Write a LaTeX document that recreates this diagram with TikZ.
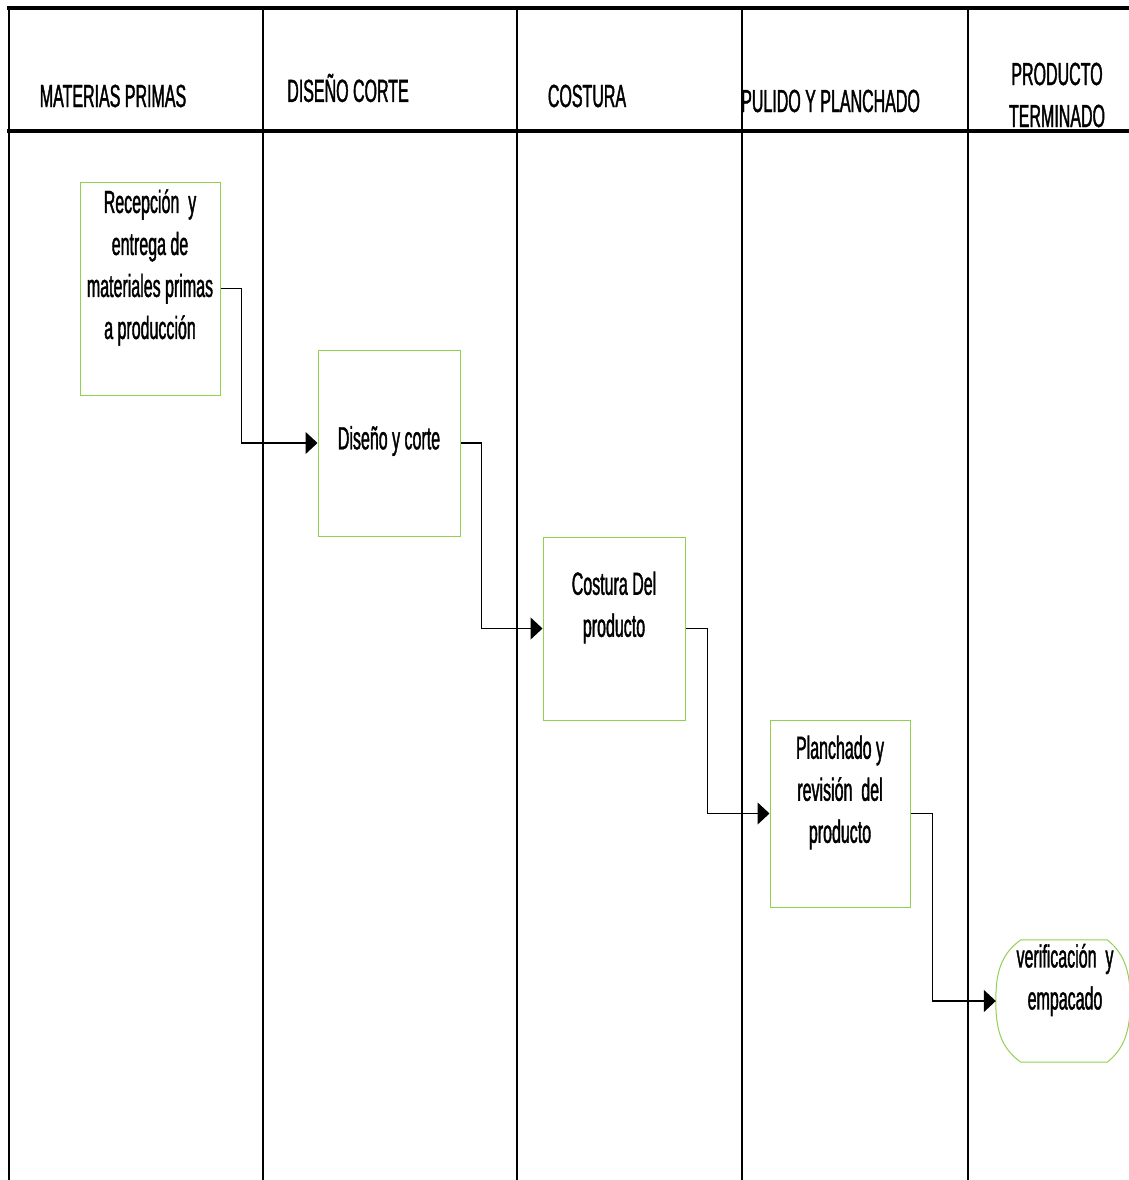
\documentclass[tikz,border=0pt]{standalone}
\usepackage{fontspec}
\setmainfont[FakeStretch=0.5,FakeBold=1.2]{Liberation Sans}
\usetikzlibrary{arrows.meta}
\definecolor{boxgreen}{RGB}{146,208,80}
\begin{document}
\begin{tikzpicture}[x=1pt,y=-1pt,
  lane/.style={line width=2pt},
  rule/.style={line width=4pt},
  stepbox/.style={draw=boxgreen,line width=1pt,rectangle,inner sep=0pt},
  endline/.style={draw=boxgreen,line width=1pt},
  txt/.style={font=\fontsize{32}{42}\selectfont,align=center,inner sep=0pt},
  flow/.style={line width=1.3pt,-{Triangle[length=12pt,width=22pt]}}]

\useasboundingbox (0,0) rectangle (1129,1180);

% swimlane frame
\draw[rule] (7,8) -- (1129,8);
\draw[rule] (7,131) -- (1129,131);
\draw[lane] (9,8) -- (9,1180);
\foreach \x in {263,517,742,968} \draw[lane] (\x,8) -- (\x,1180);

% lane titles
\node[txt] (h1) at (113,96) {MATERIAS PRIMAS};
\node[txt] (h2) at (348,88) {DISEÑO CORTE};
\node[txt] (h3) at (587,96) {COSTURA};
\node[txt,anchor=west] (h4) at (741,101) {PULIDO Y PLANCHADO};
\node[txt] (h5) at (1057,95) {PRODUCTO\\TERMINADO};

% process steps
\node[stepbox,minimum width=140pt,minimum height=213pt] (b1) at (150,288.5) {};
\node[stepbox,minimum width=142pt,minimum height=186pt] (b2) at (389,443) {};
\node[stepbox,minimum width=142pt,minimum height=183pt] (b3) at (614,628.5) {};
\node[stepbox,minimum width=140pt,minimum height=187pt] (b4) at (840,813.5) {};
\node[minimum width=134pt,minimum height=122pt,inner sep=0pt] (b5) at (1063,1001) {};

% terminator outline of the last step
\draw[endline]
  ([xshift=25pt]b5.north west) -- ([xshift=-23pt]b5.north east)
  .. controls ([xshift=-4pt,yshift=-15pt]b5.north east) and ([yshift=-35pt]b5.north east) .. (b5.east)
  .. controls ([yshift=35pt]b5.south east) and ([xshift=-4pt,yshift=15pt]b5.south east) .. ([xshift=-23pt]b5.south east)
  -- ([xshift=25pt]b5.south west)
  .. controls ([xshift=4pt,yshift=15pt]b5.south west) and ([yshift=35pt]b5.south west) .. (b5.west)
  .. controls ([yshift=-35pt]b5.north west) and ([xshift=4pt,yshift=-15pt]b5.north west) .. cycle;

\node[txt] (t1) at ([yshift=21pt]b1.center) {Recepción\ \ y\\entrega de\\materiales primas\\a producción};
\node[txt] (t2) at ([yshift=2pt]b2.center) {Diseño y corte};
\node[txt] (t3) at ([yshift=21pt]b3.center) {Costura Del\\producto};
\node[txt] (t4) at ([yshift=21pt]b4.center) {Planchado y\\revisión\ \ del\\producto};
\node[txt] (t5) at ([xshift=2pt,yshift=21pt]b5.center) {verificación\ \ y\\empacado};

% flow between steps
\draw[flow] (b1.east) -- ++(21,0) |- (b2.west);
\draw[flow] (b2.east) -- ++(21,0) |- (b3.west);
\draw[flow] (b3.east) -- ++(22,0) |- (b4.west);
\draw[flow] (b4.east) -- ++(22,0) |- (b5.west);
\end{tikzpicture}
\end{document}
